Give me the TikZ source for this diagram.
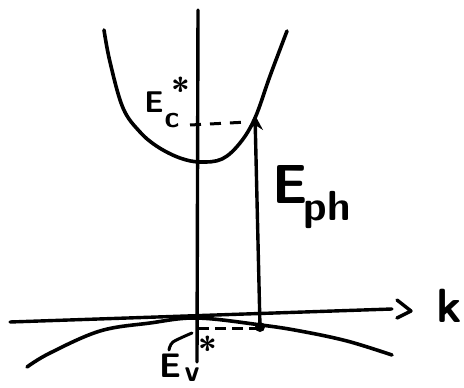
\documentclass[tikz,border=0pt]{standalone}
\usepackage{fontspec}
\usetikzlibrary{arrows.meta}
\begin{document}
\begin{tikzpicture}[x=1pt,y=-1pt,line cap=round,line join=round,
  curve/.style={line width=3.6pt},
  axisline/.style={line width=3.4pt},
  dashline/.style={line width=3pt,line cap=butt,dash pattern=on 11pt off 9pt},
  lbl/.style={inner sep=0pt}]
\useasboundingbox (0,0) rectangle (464,388);
% axes
\coordinate (vtop) at (198,10);
\coordinate (vbot) at (197,362);
\coordinate (hleft) at (10,322);
\coordinate (hright) at (392,309);
\draw[axisline] (vtop) -- (vbot);
\draw[axisline] (hleft) -- (hright);
\draw[axisline] (397,300) -- (411,311) -- (397,318);
% conduction band
\draw[curve] plot[smooth,tension=0.6] coordinates {(104,30) (110,62) (123,108) (140,132) (158,147) (180,158) (200,162) (222,159) (240,143) (255,118) (270,76) (287,31)};
% valence band
\draw[curve] plot[smooth,tension=0.6] coordinates {(27,367) (50,353) (100,331) (150,323) (197,318) (261,325) (300,331) (347,341) (392,355)};
% transition
\coordinate (dot) at (260,327);
\coordinate (top) at (255,115);
\fill (dot) circle (5pt);
\draw[axisline,-{Stealth[length=15pt,width=15pt]}] (dot) -- (top);
% dashed guides
\coordinate (ec) at (190,125);
\coordinate (ecend) at (248,122);
\draw[dashline] (ec) -- (ecend);
\coordinate (ev) at (198,328);
\coordinate (evend) at (256,328);
\draw[dashline,dash pattern=on 11pt off 6pt] (ev) -- (evend);
% leader for Ev
\draw[line width=3pt] plot[smooth] coordinates {(169,350) (173,342) (192,333)};
% labels
\node[lbl,font=\sffamily\bfseries\fontsize{30}{30}\selectfont] (Ec) at (154,102) {E};
\node[lbl,font=\sffamily\bfseries\fontsize{30}{30}\selectfont] (Ecsub) at (172,121) {c};
\node[lbl,font=\sffamily\bfseries\fontsize{34}{34}\selectfont,anchor=north] (Ecstar) at (181,77) {*};
\node[lbl,font=\sffamily\bfseries\fontsize{55}{55}\selectfont] (Eph) at (290,184) {E};
\node[lbl,font=\sffamily\bfseries\fontsize{42}{42}\selectfont] (Ephsub) at (327,210) {ph};
\node[lbl,font=\sffamily\bfseries\fontsize{48}{48}\selectfont] (k) at (449,306) {k};
\node[lbl,font=\sffamily\bfseries\fontsize{34}{34}\selectfont] (Ev) at (170,366) {E};
\node[lbl,font=\sffamily\bfseries\fontsize{30}{30}\selectfont] (Evsub) at (192,375) {v};
\node[lbl,font=\sffamily\bfseries\fontsize{34}{34}\selectfont,anchor=north] (Evstar) at (208,336) {*};
\end{tikzpicture}
\end{document}
